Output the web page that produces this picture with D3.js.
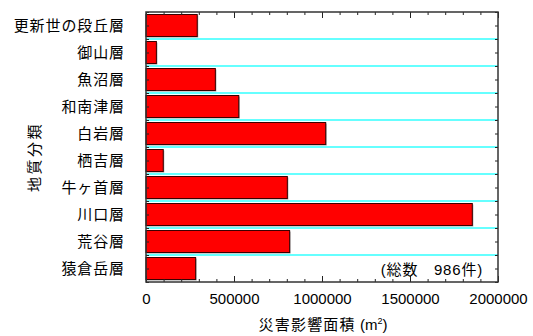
<!DOCTYPE html>
<html>
<head>
<meta charset="utf-8">
<script src="https://cdn.jsdelivr.net/npm/d3@7"></script>
<style>
  html, body { margin: 0; padding: 0; background: #fff; }
  svg { display: block; }
  text { font-family: "Liberation Sans", "Noto Sans CJK JP", sans-serif; fill: #000; }
</style>
</head>
<body>
<svg id="chart" width="533" height="336"></svg>
<script>
// 地質分類ごとの災害影響面積 (m²)
const categories = ["更新世の段丘層", "御山層", "魚沼層", "和南津層", "白岩層", "栖吉層", "牛ヶ首層", "川口層", "荒谷層", "猿倉岳層"];
const areaValues = [291000, 59000, 394000, 527000, 1021000, 98000, 803000, 1854000, 816000, 282000];
const xMajorTicks = [0, 500000, 1000000, 1500000, 2000000];
const xMinorTicks = d3.range(0, 2000001, 100000);
const xTitle = "災害影響面積";
const yTitle = "地質分類";
const totalNote = "(総数　986件)";

const svg = d3.select("#chart");
const margin = { left: 146, top: 12, right: 35, bottom: 54 };
const W = 533, H = 336;
const plotW = W - margin.left - margin.right;   // 352
const plotH = H - margin.top - margin.bottom;   // 270

const x = d3.scaleLinear().domain([0, 2000000]).range([0, plotW]);
const y = d3.scaleBand().domain(categories).range([0, plotH])
  .paddingInner(0.185).paddingOuter(0.0925);

const g = svg.append("g").attr("transform", `translate(${margin.left},${margin.top})`);

// horizontal separators between categories
const step = y.step();
const boundaries = d3.range(1, categories.length).map(i => i * step);
g.append("g").selectAll("line").data(boundaries).join("line")
  .attr("x1", 0).attr("x2", plotW)
  .attr("y1", d => d).attr("y2", d => d)
  .attr("stroke", "#33ffff").attr("stroke-width", 1.6);

// bars with a thin grey drop shadow
const rows = categories.map((c, i) => ({ name: c, value: areaValues[i] }));
g.append("g").selectAll("rect").data(rows).join("rect")
  .attr("x", 1).attr("y", d => y(d.name) + 1)
  .attr("width", d => x(d.value))
  .attr("height", y.bandwidth())
  .attr("fill", "#9a9a9a");
g.append("g").selectAll("rect").data(rows).join("rect")
  .attr("x", 0).attr("y", d => y(d.name))
  .attr("width", d => x(d.value))
  .attr("height", y.bandwidth())
  .attr("fill", "#ff0000")
  .attr("stroke", "#3a0000").attr("stroke-width", 1);

// x axes (bottom labelled, top mirrored), ticks pointing inward
const fmt = d3.format("d");
g.append("g").attr("transform", `translate(0,${plotH})`)
  .call(d3.axisBottom(x).tickValues(xMinorTicks).tickSizeInner(-3).tickSizeOuter(0).tickFormat(""))
  .call(a => a.select(".domain").remove());
const xb = g.append("g").attr("transform", `translate(0,${plotH})`)
  .call(d3.axisBottom(x).tickValues(xMajorTicks).tickSizeInner(-6).tickSizeOuter(0)
    .tickPadding(11).tickFormat(fmt));
xb.selectAll("text").style("font-size", "15px");
xb.select(".domain").remove();

g.append("g")
  .call(d3.axisTop(x).tickValues(xMinorTicks).tickSizeInner(-3).tickSizeOuter(0).tickFormat(""))
  .call(a => a.select(".domain").remove());
g.append("g")
  .call(d3.axisTop(x).tickValues(xMajorTicks).tickSizeInner(-6).tickSizeOuter(0).tickFormat(""))
  .call(a => a.select(".domain").remove());

// category axis on the left, plain ticks on the right
const tickY = d3.scaleLinear().domain([0, plotH]).range([0, plotH]);
const bandTicks = d3.range(0, categories.length * 2 + 1).map(i => i * step / 2);
g.append("g")
  .call(d3.axisLeft(tickY).tickValues(bandTicks).tickSizeInner(-3).tickSizeOuter(0).tickFormat(""))
  .call(a => a.select(".domain").remove());
g.append("g").attr("transform", `translate(${plotW},0)`)
  .call(d3.axisRight(tickY).tickValues(bandTicks).tickSizeInner(-3).tickSizeOuter(0).tickFormat(""))
  .call(a => a.select(".domain").remove());

const yl = g.append("g")
  .call(d3.axisLeft(y).tickSize(0).tickPadding(21));
yl.select(".domain").remove();
yl.selectAll("text").style("font-size", "15px").attr("letter-spacing", "0.9px").attr("dy", "0.36em");

g.selectAll(".tick line").attr("stroke", "#222");

// plot frame
g.append("rect").attr("x", 0).attr("y", 0).attr("width", plotW).attr("height", plotH)
  .attr("fill", "none").attr("stroke", "#333").attr("stroke-width", 1.5);

// total count note
g.append("text")
  .attr("x", plotW - 15).attr("y", plotH - 7)
  .attr("text-anchor", "end")
  .attr("letter-spacing", "0.8px")
  .style("font-size", "15px")
  .text(totalNote);

// axis titles
const xt = svg.append("text")
  .attr("x", margin.left + plotW / 2 + 1).attr("y", 330)
  .attr("text-anchor", "middle")
  .style("font-size", "15px");
xt.append("tspan").attr("letter-spacing", "1.2px").text(xTitle);
xt.append("tspan").text(" (m");
xt.append("tspan").attr("dy", -6).style("font-size", "9px").text("2");
xt.append("tspan").attr("dy", 6).text(")");

svg.append("text")
  .attr("transform", `translate(40,157) rotate(-90)`)
  .attr("text-anchor", "middle")
  .attr("letter-spacing", "2.5px")
  .style("font-size", "15px")
  .text(yTitle);
</script>
</body>
</html>
